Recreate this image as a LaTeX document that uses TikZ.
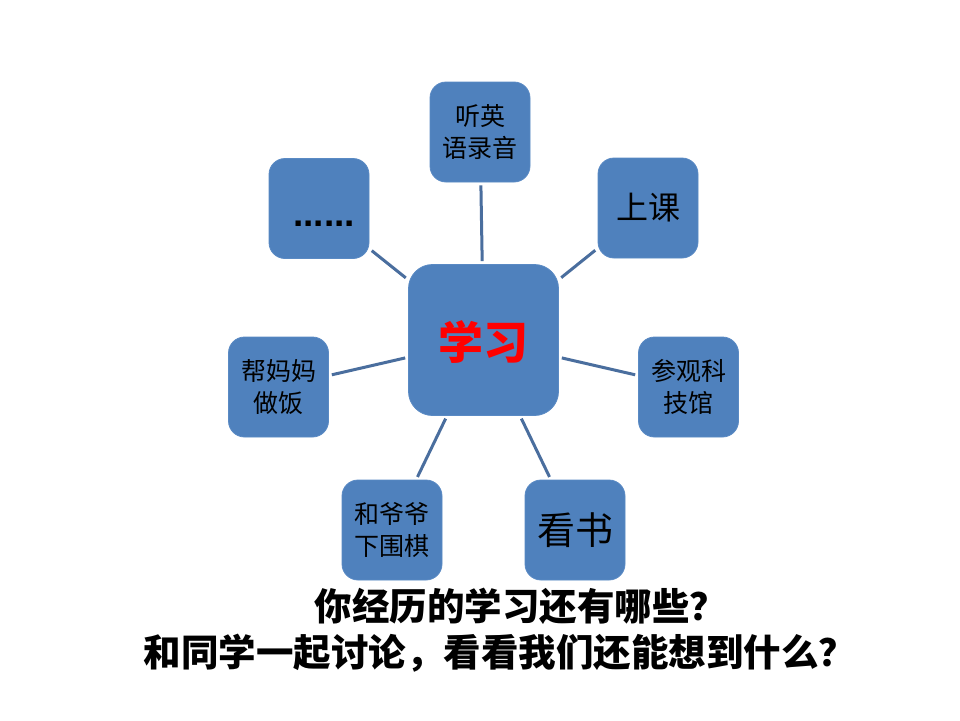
\documentclass[tikz,border=0pt]{standalone}
\usepackage{fontspec}
\setmainfont{Noto Sans CJK SC}
\newfontfamily\dotfont{Liberation Sans}
\definecolor{boxblue}{HTML}{4F81BD}
\definecolor{boxedge}{HTML}{5A8AC4}
\definecolor{linkblue}{HTML}{4A6E9E}
\definecolor{hired}{HTML}{FF0000}
\begin{document}
\begin{tikzpicture}[x=1pt,y=-1pt,
  topic/.style={rectangle, rounded corners=16pt, fill=boxblue, draw=boxedge, line width=0.8pt,
    minimum width=100pt, minimum height=100pt, inner sep=0pt, align=center, text=black},
  hub/.style={topic, rounded corners=24pt, minimum width=150pt, minimum height=151pt},
  link/.style={draw=linkblue, line width=3pt, shorten >=3pt, shorten <=3pt},
  small/.style={font=\fontsize{25}{32}\selectfont},
  question/.style={font=\bfseries\fontsize{37.5}{44}\selectfont, text=black, inner sep=0pt}]
\useasboundingbox (0,0) rectangle (960,720);
\fill[white] (0,0) rectangle (960,720);

\node[hub] (c) at (483.5,340) {};
\node[font=\bfseries\fontsize{45}{50}\selectfont, text=hired, inner sep=0pt] (ct) at (483,342) {学习};

\node[topic, small] (top) at (480,132) {听英\\语录音};
\node[topic, font=\fontsize{32}{36}\selectfont] (ur) at (648,208) {上课};
\node[topic, small] (r) at (688.5,387) {参观科\\技馆};
\node[topic, font=\fontsize{38}{42}\selectfont] (lr) at (575,530) {看书};
\node[topic, small] (ll) at (392,530) {和爷爷\\下围棋};
\node[topic, small] (l) at (278.5,387) {帮妈妈\\做饭};
\node[topic] (ul) at (319,208.5) {};
\node[font=\dotfont\bfseries\fontsize{37}{40}\selectfont, inner sep=0pt, anchor=base] (dots) at (324,226) {......};

\draw[link] (c) -- (top);
\draw[link] (c) -- (ur);
\draw[link] (c) -- (r);
\draw[link] (c) -- (lr);
\draw[link] (c) -- (ll);
\draw[link] (c) -- (l);
\draw[link] (c) -- (ul);

\node[question] (q1) at (521,606) {你经历的学习还有哪些？};
\node[question] (q2) at (500,653) {和同学一起讨论，看看我们还能想到什么？};
\end{tikzpicture}
\end{document}
